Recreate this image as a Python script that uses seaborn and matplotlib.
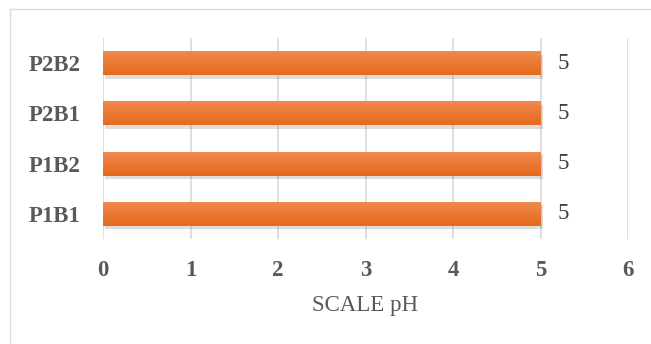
import numpy as np
import pandas as pd
import matplotlib
matplotlib.use("Agg")
import matplotlib.pyplot as plt
import matplotlib.patheffects as pe
from matplotlib.patches import Rectangle
import seaborn as sns

# Data
categories = ["P2B2", "P2B1", "P1B2", "P1B1"]
ph_values = [5, 5, 5, 5]
x_ticks = [0, 1, 2, 3, 4, 5, 6]

df = pd.DataFrame({"sample": categories, "ph": ph_values})

sns.set_theme(style="white")
plt.rcParams["font.family"] = ["Liberation Serif", "DejaVu Serif"]

fig = plt.figure(figsize=(6.51, 3.44), dpi=100)
ax = fig.add_axes([103 / 651, 1 - 239 / 344, 525 / 651, 201 / 344])

sns.barplot(data=df, x="ph", y="sample", orient="h", color="#ED7D31",
            width=0.48, ax=ax, zorder=3, saturation=1)

# Soft drop shadow and vertical gradient on each bar
grad = np.linspace(0, 1, 64).reshape(-1, 1)
cmap = matplotlib.colors.LinearSegmentedColormap.from_list(
    "bar", ["#F08A50", "#E66A1C"])
for patch in ax.patches:
    patch.set_edgecolor("none")
    patch.set_path_effects([pe.SimplePatchShadow(offset=(1.5, -2.5), alpha=0.25,
                                                 shadow_rgbFace="#7a7a7a"),
                            pe.Normal()])
    x0, y0 = patch.get_x(), patch.get_y()
    w, h = patch.get_width(), patch.get_height()
    im = ax.imshow(grad, cmap=cmap, aspect="auto",
                   extent=(x0, x0 + w, y0 + h, y0), zorder=4,
                   interpolation="bicubic")
    im.set_clip_path(patch)

ax.set_xlim(0, 6)
ax.set_ylim(3.5, -0.5)
ax.set_xticks(x_ticks)
ax.set_xticklabels([str(t) for t in x_ticks], fontsize=16.5,
                   fontweight="bold", color="#595959")
ax.tick_params(axis="x", length=0, pad=15)
ax.tick_params(axis="y", length=0, pad=16)
for lbl in ax.get_yticklabels():
    lbl.set_fontsize(16.5)
    lbl.set_fontweight("bold")
    lbl.set_color("#595959")

ax.xaxis.grid(True, color="#D9D9D9", linewidth=1.2, zorder=0)
ax.yaxis.grid(False)
for s in ax.spines.values():
    s.set_visible(False)

ax.set_ylabel("")
ax.set_xlabel("SCALE pH", fontsize=16.5, color="#595959", labelpad=10)

# Value labels
for i, v in enumerate(ph_values):
    ax.text(v + 0.19, i, str(v), va="center", ha="left",
            fontsize=16.5, color="#404040", zorder=5)

# Chart frame
fig.patches.append(Rectangle((10 / 651, -0.05), 1.0, 1 - 9 / 344 + 0.05,
                             transform=fig.transFigure, fill=False,
                             edgecolor="#D9D9D9", linewidth=1.0))

fig.savefig("out.png", dpi=100)
